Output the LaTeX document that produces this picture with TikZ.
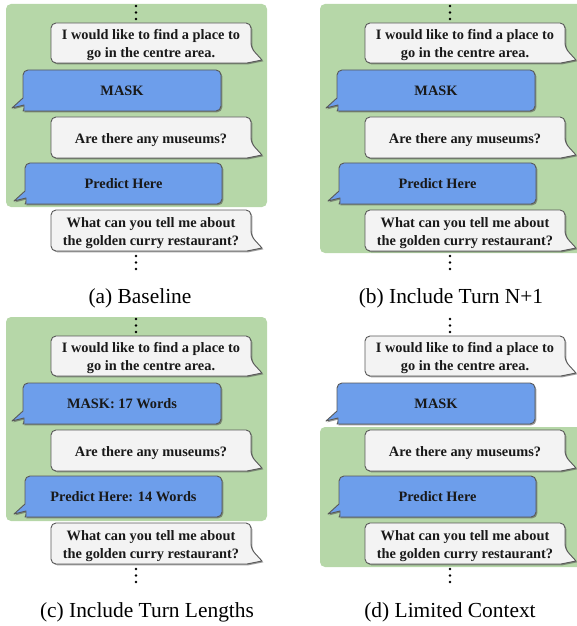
\documentclass[tikz,border=0pt]{standalone}
\usepackage{fontspec}
\setmainfont{Liberation Serif}
\usetikzlibrary{shadows}
\definecolor{panelgreen}{HTML}{B6D7A8}
\definecolor{bubblue}{HTML}{6D9EEB}
\definecolor{bubwhite}{HTML}{F3F3F3}
\definecolor{bubline}{HTML}{595959}
\tikzset{
  greenpanel/.style={fill=panelgreen, draw=none, rounded corners=5bp},
  bubshape/.style={draw=bubline, line width=0.9bp, line join=round,
    drop shadow={shadow xshift=1.3bp, shadow yshift=-1.3bp, opacity=0.55, fill=black!70}},
  wbubstyle/.style={bubshape, fill=bubwhite},
  bbubstyle/.style={bubshape, fill=bubblue},
  btxt/.style={font=\bfseries\fontsize{14.4}{18}\selectfont, align=center, inner sep=0pt, text=black!90},
  captxt/.style={font=\fontsize{21.5}{24}\selectfont, anchor=base, inner sep=0pt},
  dotstyle/.style={fill=black}
}
% white bubble: name, top, bottom, text  (L=51, R=251)
\newcommand\wbubble[4]{%
  \draw[wbubstyle, rounded corners=5bp] (151,#2) -- (251,#2) -- (251,#3-15) [sharp corners] -- (262,#3-3) -- (247,#3) [rounded corners=5bp] -- (51,#3) -- (51,#2) -- cycle;
  \node[btxt, yshift=-2.2bp] (#1) at (151,{(#2+#3)/2}) {#4};}
% blue bubble: name, L, R, top, bottom, text
\newcommand\bbubble[6]{%
  \draw[bbubstyle, rounded corners=5bp] ({(#2+#3)/2},#4) -- (#3,#4) -- (#3,#5) -- (#2+5,#5) [sharp corners] .. controls (#2+1,#5) and (#2+1,#5-2) .. (#2+1,#5-6) -- (#2-11,#5-3) -- (#2,#5-13) [rounded corners=5bp] -- (#2,#4) -- cycle;
  \node[btxt] (#1) at ({(#2+#3)/2},{(#4+#5)/2}) {#6};}
\newcommand\vdotsat[2]{%
  \fill[dotstyle] (#1,#2) circle (1.4bp) (#1,#2+6.5) circle (1.4bp) (#1,#2+13) circle (1.4bp);}
\newcommand\convpanel[4]{%
  \begin{scope}[shift={#2}]
    \vdotsat{136}{6}
    \wbubble{#1u1}{23}{63}{I would like to find a place to\\go in the centre area.}
    \bbubble{#1m}{23}{221}{70}{111}{#3}
    \wbubble{#1u2}{117}{158}{Are there any museums?}
    \bbubble{#1p}{25}{222}{163}{204}{#4}
    \wbubble{#1u3}{210}{251}{What can you tell me about\\the golden curry restaurant?}
    \vdotsat{136}{256}
  \end{scope}}
\begin{document}
\begin{tikzpicture}[x=1bp, y=-1bp]
  \useasboundingbox (0,0) rectangle (577,626);
  \clip (0,0) rectangle (577,626);
  % green context areas
  \fill[greenpanel] (6,4) rectangle (267,207);
  \fill[greenpanel] (320,4) rectangle (585,253);
  \fill[greenpanel] (6,317) rectangle (267,521);
  \fill[greenpanel] (320,427) rectangle (585,567);
  % panels
  \convpanel{a}{(0,0)}{MASK}{Predict Here}
  \convpanel{b}{(314,0)}{MASK}{Predict Here}
  \convpanel{c}{(0,313)}{MASK: 17 Words}{Predict Here: 14 Words}
  \convpanel{d}{(314,313)}{MASK}{Predict Here}
  % captions
  \node[captxt] (capa) at (140,303) {(a) Baseline};
  \node[captxt] (capb) at (451,303) {(b) Include Turn N+1};
  \node[captxt] (capc) at (147,617) {(c) Include Turn Lengths};
  \node[captxt] (capd) at (450,617) {(d) Limited Context};
\end{tikzpicture}
\end{document}
